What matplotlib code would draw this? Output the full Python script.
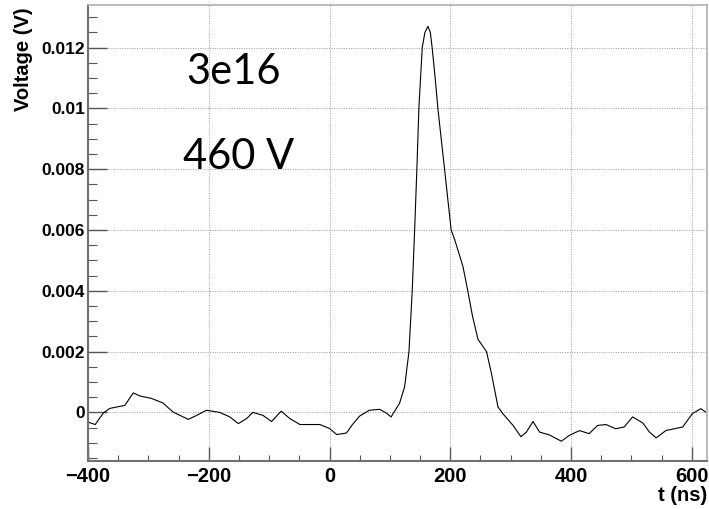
import matplotlib
matplotlib.use("Agg")
from matplotlib import pyplot as plt
from matplotlib.ticker import MultipleLocator
import numpy as np

# waveform (t in ns, V in volts)
t = np.array([-400, -388, -375, -364, -339, -325, -314, -295, -276, -259, -234, -220,
              -204, -182, -165, -151, -137, -127, -110, -96, -80, -66, -49, -16,
              0, 12, 28, 38, 50, 66, 83, 94, 102, 116, 124.4, 131.6, 137,
              141, 144.7, 148, 153.6, 158, 163, 167, 170, 175, 179.5, 185, 190.6,
              196, 201.5, 207, 212.5, 221, 229, 237, 246, 253, 260, 268, 279, 287, 304,
              317, 326, 337, 348, 364, 384, 397, 414, 430, 444, 458, 474,
              488, 502, 519, 530, 541, 557, 585, 601, 615, 623])
v = np.array([-0.00032, -0.0004, -0.00003, 0.00013, 0.00023, 0.00064, 0.00054, 0.00046,
              0.00031, 0.00001, -0.00023, -0.0001, 0.00007, 0.0, -0.00015, -0.00037,
              -0.0002, 0.0, -0.0001, -0.0003, 0.00004, -0.0002, -0.0004, -0.0004,
              -0.00053, -0.00073, -0.00068, -0.0004, -0.00012, 0.00007, 0.0001, -0.00002,
              -0.00015, 0.0003, 0.00084, 0.0020, 0.0040,
              0.0060, 0.0080, 0.0100, 0.0120, 0.0125, 0.0127, 0.0125, 0.0120,
              0.0110, 0.0100, 0.0090, 0.0080,
              0.0070, 0.0060, 0.0057, 0.00535, 0.0048, 0.0040, 0.00315, 0.0024, 0.0022,
              0.0020, 0.0013, 0.00018, -0.00004, -0.00043,
              -0.0008, -0.00065, -0.0003, -0.00065, -0.00074, -0.00095, -0.00076, -0.0006,
              -0.0007, -0.00043, -0.0004, -0.00054, -0.00048, -0.00015, -0.00035, -0.00065,
              -0.00084, -0.0006, -0.00048, -0.00004, 0.00012, 0.00001])

fluence = "3e16"
bias = "460 V"

plt.rcParams['font.family'] = ['Liberation Sans', 'DejaVu Sans']

fig = plt.figure(figsize=(7.09, 5.09), dpi=100)
ax = fig.add_axes([0.1241, 0.0943, 0.8729, 0.8957])

ax.plot(t, v, '-', color='black', lw=0.8)

ax.set_xlim(-400, 625)
ax.set_ylim(-0.0016, 0.0134)

ax.xaxis.set_major_locator(MultipleLocator(200))
ax.xaxis.set_minor_locator(MultipleLocator(50))
ax.yaxis.set_major_locator(MultipleLocator(0.002))
ax.yaxis.set_minor_locator(MultipleLocator(0.0005))

ax.grid(True, which='major', linestyle=(0, (1, 1.5)), color='#9a9a9a', lw=0.7)

ax.tick_params(axis='x', which='major', direction='in', length=9.9, width=1.0,
               color='#555555', labelsize=14.5, pad=4)
ax.tick_params(axis='x', which='minor', direction='in', length=4.5, width=0.8,
               color='#555555')
ax.tick_params(axis='y', which='major', direction='in', length=13.4, width=1.0,
               color='#555555', labelsize=12.5, pad=2)
ax.tick_params(axis='y', which='minor', direction='in', length=6.5, width=0.8,
               color='#555555')
for lab in ax.get_xticklabels() + ax.get_yticklabels():
    lab.set_fontweight('bold')

ax.yaxis.set_major_formatter(plt.FuncFormatter(lambda y, p: "0" if abs(y) < 1e-9 else f"{y:g}"))
ax.xaxis.set_major_formatter(plt.FuncFormatter(lambda x, p: f"{x:.0f}".replace('-', '\u2212')))

for side in ['left', 'bottom']:
    ax.spines[side].set_color('#707070')
    ax.spines[side].set_linewidth(1.5)
for side in ['top', 'right']:
    ax.spines[side].set_color('#b0b0b0')
    ax.spines[side].set_linewidth(1.2)

ax.set_ylabel("Voltage (V)", fontsize=14.5, fontweight='bold', loc='top')
ax.yaxis.set_label_coords(-0.089, 0.996)
ax.set_xlabel("t (ns)", fontsize=14.5, fontweight='bold', loc='right', labelpad=0)

ax.text(-238, 0.0108, fluence, fontsize=30, family=['Lato', 'DejaVu Sans'],
        ha='left', va='baseline')
ax.text(-243, 0.0080, bias, fontsize=30, family=['Lato', 'DejaVu Sans'],
        ha='left', va='baseline')

plt.savefig("out.png", dpi=100)
